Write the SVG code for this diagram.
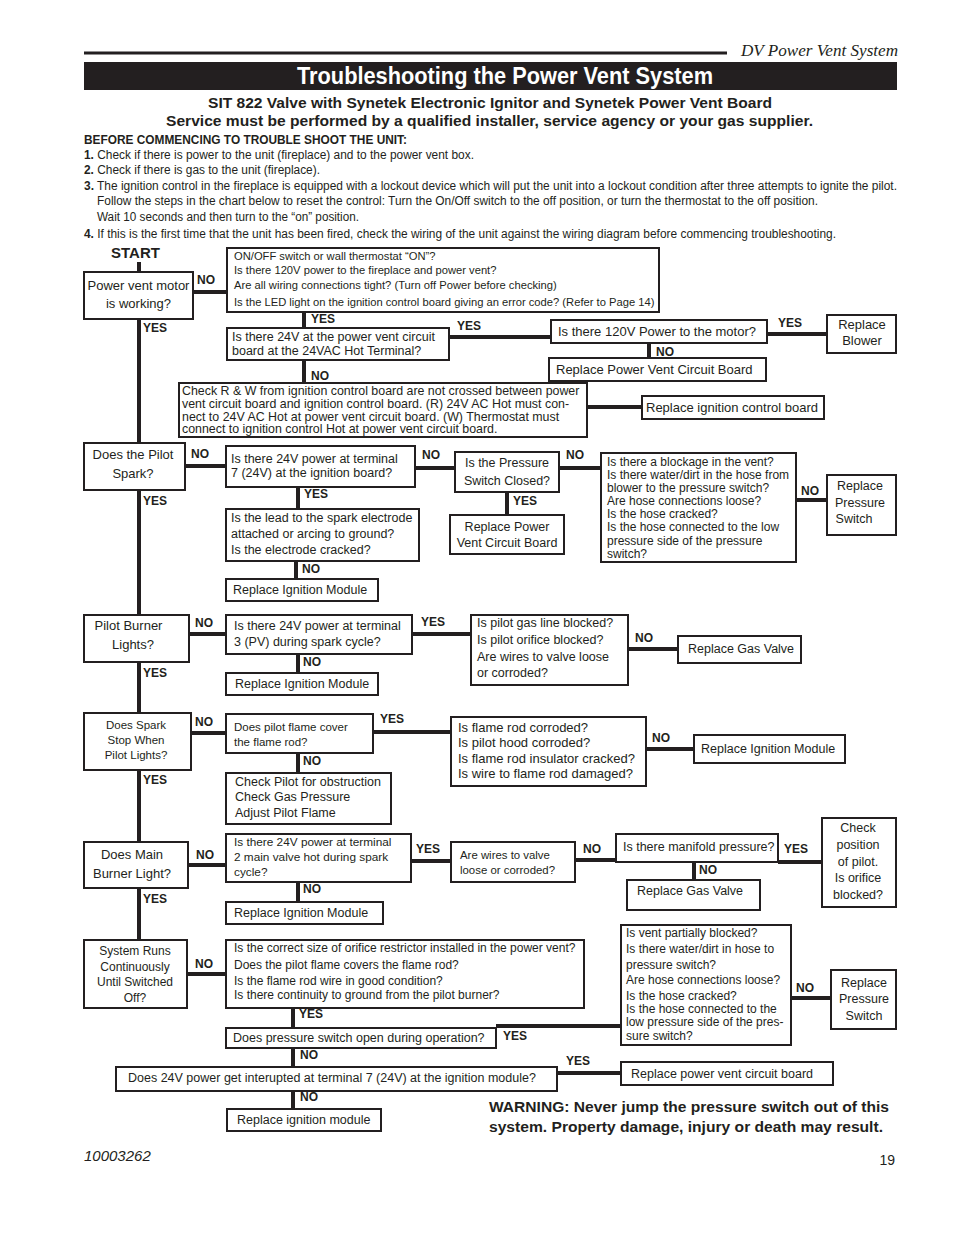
<svg xmlns="http://www.w3.org/2000/svg" width="954" height="1235" viewBox="0 0 954 1235">
<style>
.box{fill:#fff;stroke:#231f20;stroke-width:2}
.c{stroke:#231f20;stroke-width:4;fill:none}
text{font-family:"Liberation Sans",Arial,Helvetica,sans-serif;fill:#231f20}
.t{font-size:12.5px}
.s{font-size:11.2px}
.m{font-size:12px}
.sm{font-size:11.5px}
.l{font-size:13px}
.mid{text-anchor:middle}
.lb{font-size:12px;font-weight:bold}
</style>
<rect width="954" height="1235" fill="#fff"/>
<g id="header">
<line x1="84" y1="53" x2="727" y2="53" stroke="#231f20" stroke-width="3"/>
<text x="741" y="56" style="font-family:'Liberation Serif','Times New Roman',serif;font-style:italic;font-size:17px" textLength="157" lengthAdjust="spacingAndGlyphs">DV Power Vent System</text>
<rect x="84" y="62" width="813" height="28" fill="#231f20"/>
<text x="297" y="84" style="fill:#fff;font-size:23px;font-weight:bold" textLength="416" lengthAdjust="spacingAndGlyphs">Troubleshooting the Power Vent System</text>
<text x="208" y="108" font-size="15" font-weight="bold" textLength="564" lengthAdjust="spacingAndGlyphs">SIT 822 Valve with Synetek Electronic Ignitor and Synetek Power Vent Board</text>
<text x="166" y="126" font-size="15" font-weight="bold" textLength="647" lengthAdjust="spacingAndGlyphs">Service must be performed by a qualified installer, service agency or your gas supplier.</text>
</g>
<g id="intro" font-size="12">
<text x="84" y="144" font-weight="bold" textLength="323" lengthAdjust="spacingAndGlyphs">BEFORE COMMENCING TO TROUBLE SHOOT THE UNIT:</text>
<text x="84" y="159" textLength="390" lengthAdjust="spacingAndGlyphs"><tspan font-weight="bold">1.</tspan> Check if there is power to the unit (fireplace) and to the power vent box.</text>
<text x="84" y="174" textLength="236" lengthAdjust="spacingAndGlyphs"><tspan font-weight="bold">2.</tspan> Check if there is gas to the unit (fireplace).</text>
<text x="84" y="190" textLength="813" lengthAdjust="spacingAndGlyphs"><tspan font-weight="bold">3.</tspan> The ignition control in the fireplace is equipped with a lockout device which will put the unit into a lockout condition after three attempts to ignite the pilot.</text>
<text x="97" y="205" textLength="721" lengthAdjust="spacingAndGlyphs">Follow the steps in the chart below to reset the control: Turn the On/Off switch to the off position, or turn the thermostat to the off position.</text>
<text x="97" y="221" textLength="262" lengthAdjust="spacingAndGlyphs">Wait 10 seconds and  then turn to the “on” position.</text>
<text x="84" y="238" textLength="752" lengthAdjust="spacingAndGlyphs"><tspan font-weight="bold">4.</tspan> If this is the first time that the unit has been fired, check the wiring of the unit against the wiring diagram before commencing troubleshooting.</text>
</g>
<g id="connectors">
<line class="c" x1="139" y1="262" x2="139" y2="940"/>
<line class="c" x1="193" y1="292" x2="227" y2="292"/>
<line class="c" x1="304" y1="312" x2="304" y2="328"/>
<line class="c" x1="449" y1="337" x2="551" y2="337"/>
<line class="c" x1="649" y1="343" x2="649" y2="358"/>
<line class="c" x1="767" y1="334" x2="827" y2="334"/>
<line class="c" x1="304" y1="360" x2="304" y2="383"/>
<line class="c" x1="587" y1="407" x2="642" y2="407"/>
<line class="c" x1="185" y1="466" x2="226" y2="466"/>
<line class="c" x1="415" y1="468" x2="455" y2="468"/>
<line class="c" x1="507" y1="492" x2="507" y2="515"/>
<line class="c" x1="559" y1="468" x2="601" y2="468"/>
<line class="c" x1="796" y1="500" x2="827" y2="500"/>
<line class="c" x1="298" y1="487" x2="298" y2="509"/>
<line class="c" x1="296" y1="561" x2="296" y2="579"/>
<line class="c" x1="189" y1="634" x2="226" y2="634"/>
<line class="c" x1="412" y1="634" x2="471" y2="634"/>
<line class="c" x1="628" y1="649" x2="678" y2="649"/>
<line class="c" x1="298" y1="654" x2="298" y2="673"/>
<line class="c" x1="191" y1="733" x2="226" y2="733"/>
<line class="c" x1="373" y1="732" x2="451" y2="732"/>
<line class="c" x1="646" y1="749" x2="694" y2="749"/>
<line class="c" x1="298" y1="753" x2="298" y2="773"/>
<line class="c" x1="188" y1="865" x2="226" y2="865"/>
<line class="c" x1="411" y1="861" x2="451" y2="861"/>
<line class="c" x1="575" y1="860" x2="616" y2="860"/>
<line class="c" x1="694" y1="862" x2="694" y2="880"/>
<line class="c" x1="778" y1="862" x2="822" y2="862"/>
<line class="c" x1="298" y1="882" x2="298" y2="902"/>
<line class="c" x1="187" y1="974" x2="226" y2="974"/>
<line class="c" x1="293" y1="1008" x2="293" y2="1028"/>
<line class="c" x1="496" y1="1026" x2="621" y2="1026"/>
<line class="c" x1="791" y1="998" x2="831" y2="998"/>
<line class="c" x1="293" y1="1048" x2="293" y2="1067"/>
<line class="c" x1="557" y1="1073" x2="621" y2="1073"/>
<line class="c" x1="293" y1="1091" x2="293" y2="1109"/>
</g>
<g id="labels">
<text x="111" y="258" font-size="15" font-weight="bold">START</text>
<text class="lb" x="197" y="284">NO</text>
<text class="lb" x="143" y="332">YES</text>
<text class="lb" x="311" y="323">YES</text>
<text class="lb" x="457" y="330">YES</text>
<text class="lb" x="656" y="356">NO</text>
<text class="lb" x="778" y="327">YES</text>
<text class="lb" x="311" y="380">NO</text>
<text class="lb" x="191" y="458">NO</text>
<text class="lb" x="422" y="459">NO</text>
<text class="lb" x="513" y="505">YES</text>
<text class="lb" x="566" y="459">NO</text>
<text class="lb" x="801" y="495">NO</text>
<text class="lb" x="143" y="505">YES</text>
<text class="lb" x="304" y="498">YES</text>
<text class="lb" x="302" y="573">NO</text>
<text class="lb" x="195" y="627">NO</text>
<text class="lb" x="421" y="626">YES</text>
<text class="lb" x="635" y="642">NO</text>
<text class="lb" x="303" y="666">NO</text>
<text class="lb" x="143" y="677">YES</text>
<text class="lb" x="195" y="726">NO</text>
<text class="lb" x="380" y="723">YES</text>
<text class="lb" x="652" y="742">NO</text>
<text class="lb" x="303" y="765">NO</text>
<text class="lb" x="143" y="784">YES</text>
<text class="lb" x="196" y="859">NO</text>
<text class="lb" x="416" y="853">YES</text>
<text class="lb" x="583" y="853">NO</text>
<text class="lb" x="699" y="874">NO</text>
<text class="lb" x="784" y="853">YES</text>
<text class="lb" x="303" y="893">NO</text>
<text class="lb" x="143" y="903">YES</text>
<text class="lb" x="195" y="968">NO</text>
<text class="lb" x="299" y="1018">YES</text>
<text class="lb" x="503" y="1040">YES</text>
<text class="lb" x="796" y="992">NO</text>
<text class="lb" x="300" y="1059">NO</text>
<text class="lb" x="566" y="1065">YES</text>
<text class="lb" x="300" y="1101">NO</text>
</g>
<g id="n1"><rect class="box" x="84" y="272" width="109" height="47"/><text class="l mid" x="138.5" y="290">Power vent motor</text><text class="l mid" x="138.5" y="308">is working?</text></g>
<g id="n2"><rect class="box" x="227" y="248" width="432" height="64"/><text class="s" x="234" y="260">ON/OFF switch or wall thermostat “ON”?</text><text class="s" x="234" y="274">Is there 120V power to the fireplace and power vent?</text><text class="s" x="234" y="289">Are all wiring connections tight? (Turn off Power before checking)</text><text class="s" x="234" y="306">Is the LED light on the ignition control board giving an error code? (Refer to Page 14)</text></g>
<g id="n3"><rect class="box" x="227" y="328" width="222" height="32"/><text class="t" x="232" y="341">Is there 24V at the power vent circuit</text><text class="t" x="232" y="355">board at the 24VAC Hot Terminal?</text></g>
<g id="n4"><rect class="box" x="551" y="320" width="216" height="23"/><text class="l" x="558" y="336">Is there 120V Power to the motor?</text></g>
<g id="n5"><rect class="box" x="549" y="358" width="217" height="23"/><text class="l" x="556" y="374">Replace Power Vent Circuit Board</text></g>
<g id="n6"><rect class="box" x="827" y="315" width="69" height="38"/><text class="l mid" x="862" y="329">Replace</text><text class="l mid" x="862" y="345">Blower</text></g>
<g id="n7"><rect class="box" x="179" y="383" width="408" height="54"/><text x="182" y="395" font-size="12.4">Check R &amp; W from ignition control board are not crossed between power</text><text x="182" y="408" font-size="12.4">vent circuit board and ignition control board. (R) 24V AC Hot must con-</text><text x="182" y="421" font-size="12.4">nect to 24V AC Hot at power vent circuit board. (W) Thermostat must</text><text x="182" y="433" font-size="12.4">connect to ignition control Hot at power vent circuit board.</text></g>
<g id="n8"><rect class="box" x="642" y="396" width="182" height="23"/><text class="l" x="646" y="412">Replace ignition control board</text></g>
<g id="n9"><rect class="box" x="84" y="443" width="101" height="47"/><text class="l mid" x="133" y="459">Does the Pilot</text><text class="l mid" x="133" y="478">Spark?</text></g>
<g id="n10"><rect class="box" x="226" y="446" width="189" height="41"/><text class="t" x="231" y="463">Is there 24V power at terminal</text><text class="t" x="231" y="477">7 (24V) at the ignition board?</text></g>
<g id="n11"><rect class="box" x="455" y="452" width="104" height="40"/><text class="t mid" x="507" y="467">Is the Pressure</text><text class="t mid" x="507" y="485">Switch Closed?</text></g>
<g id="n12"><rect class="box" x="450" y="515" width="114" height="39"/><text class="t mid" x="507" y="531">Replace Power</text><text class="t mid" x="507" y="547">Vent Circuit Board</text></g>
<g id="n13"><rect class="box" x="601" y="453" width="195" height="109"/><text class="m" x="607" y="466">Is there a blockage in the vent?</text><text class="m" x="607" y="479">Is there water/dirt in the hose from</text><text class="m" x="607" y="492">blower to the pressure switch?</text><text class="m" x="607" y="505">Are hose connections loose?</text><text class="m" x="607" y="518">Is the hose cracked?</text><text class="m" x="607" y="531">Is the hose connected to the low</text><text class="m" x="607" y="545">pressure side of the pressure</text><text class="m" x="607" y="558">switch?</text></g>
<g id="n14"><rect class="box" x="827" y="475" width="69" height="60"/><text class="t mid" x="860" y="490">Replace</text><text class="t mid" x="860" y="507">Pressure</text><text class="t mid" x="854" y="523">Switch</text></g>
<g id="n15"><rect class="box" x="226" y="509" width="193" height="52"/><text class="t" x="231" y="522">Is the lead to the spark electrode</text><text class="t" x="231" y="538">attached or arcing to ground?</text><text class="t" x="231" y="554">Is the electrode cracked?</text></g>
<g id="n16"><rect class="box" x="226" y="579" width="152" height="22"/><text class="t" x="233" y="594">Replace Ignition Module</text></g>
<g id="n17"><rect class="box" x="84" y="615" width="105" height="47"/><text class="l mid" x="128.5" y="630">Pilot Burner</text><text class="l mid" x="133" y="649">Lights?</text></g>
<g id="n18"><rect class="box" x="226" y="615" width="186" height="39"/><text class="t" x="234" y="630">Is there 24V power at terminal</text><text class="t" x="234" y="646">3 (PV) during spark cycle?</text></g>
<g id="n19"><rect class="box" x="471" y="615" width="157" height="70"/><text class="t" x="477" y="627">Is pilot gas line blocked?</text><text class="t" x="477" y="644">Is pilot orifice blocked?</text><text class="t" x="477" y="661">Are wires to valve loose</text><text class="t" x="477" y="677">or corroded?</text></g>
<g id="n20"><rect class="box" x="678" y="636" width="123" height="27"/><text class="t" x="688" y="653">Replace Gas Valve</text></g>
<g id="n21"><rect class="box" x="226" y="673" width="152" height="22"/><text class="t" x="235" y="688">Replace Ignition Module</text></g>
<g id="n22"><rect class="box" x="84" y="713" width="107" height="57"/><text class="sm mid" x="136" y="729">Does Spark</text><text class="sm mid" x="136" y="744">Stop When</text><text class="sm mid" x="136" y="759">Pilot Lights?</text></g>
<g id="n23"><rect class="box" x="226" y="714" width="147" height="39"/><text class="sm" x="234" y="731">Does pilot flame cover</text><text class="sm" x="234" y="746">the flame rod?</text></g>
<g id="n24"><rect class="box" x="451" y="717" width="195" height="69"/><text class="l" x="458" y="732">Is flame rod corroded?</text><text class="l" x="458" y="747">Is pilot hood corroded?</text><text class="l" x="458" y="763">Is flame rod insulator cracked?</text><text class="l" x="458" y="778">Is wire to flame rod damaged?</text></g>
<g id="n25"><rect class="box" x="694" y="735" width="151" height="28"/><text class="t" x="701" y="753">Replace Ignition Module</text></g>
<g id="n26"><rect class="box" x="226" y="773" width="165" height="51"/><text class="t" x="235" y="786">Check Pilot for obstruction</text><text class="t" x="235" y="801">Check Gas Pressure</text><text class="t" x="235" y="817">Adjust Pilot Flame</text></g>
<g id="n27"><rect class="box" x="84" y="842" width="104" height="46"/><text class="l mid" x="132" y="859">Does Main</text><text class="l mid" x="132" y="878">Burner Light?</text></g>
<g id="n28"><rect class="box" x="226" y="834" width="185" height="48"/><text x="234" y="846" font-size="11.8">Is there 24V power at terminal</text><text x="234" y="861" font-size="11.8">2 main valve hot during spark</text><text x="234" y="876" font-size="11.8">cycle?</text></g>
<g id="n29"><rect class="box" x="451" y="842" width="124" height="40"/><text x="460" y="859" font-size="11.4">Are wires to valve</text><text x="460" y="874" font-size="11.4">loose or corroded?</text></g>
<g id="n30"><rect class="box" x="616" y="834" width="162" height="28"/><text class="t" x="623" y="851">Is there manifold pressure?</text></g>
<g id="n31"><rect class="box" x="627" y="880" width="133" height="30"/><text class="t" x="637" y="895">Replace Gas Valve</text></g>
<g id="n32"><rect class="box" x="822" y="818" width="74" height="89"/><text class="t mid" x="858" y="832">Check</text><text class="t mid" x="858" y="849">position</text><text class="t mid" x="858" y="866">of pilot.</text><text class="t mid" x="858" y="882">Is orifice</text><text class="t mid" x="858" y="899">blocked?</text></g>
<g id="n33"><rect class="box" x="226" y="902" width="157" height="22"/><text class="t" x="234" y="917">Replace Ignition Module</text></g>
<g id="n34"><rect class="box" x="84" y="940" width="103" height="68"/><text class="m mid" x="135" y="955">System Runs</text><text class="m mid" x="135" y="971">Continuously</text><text class="m mid" x="135" y="986">Until Switched</text><text class="m mid" x="135" y="1002">Off?</text></g>
<g id="n35"><rect class="box" x="226" y="940" width="358" height="68"/><text class="m" x="234" y="952">Is the correct size of orifice restrictor installed in the power vent?</text><text class="m" x="234" y="969">Does the pilot flame covers the flame rod?</text><text class="m" x="234" y="985">Is the flame rod wire in good condition?</text><text class="m" x="234" y="999">Is there continuity to ground from the pilot burner?</text></g>
<g id="n36"><rect class="box" x="226" y="1028" width="270" height="20"/><text class="t" x="233" y="1042">Does pressure switch open during operation?</text></g>
<g id="n37"><rect class="box" x="621" y="925" width="170" height="120"/><text class="m" x="626" y="937">Is vent partially blocked?</text><text class="m" x="626" y="953">Is there water/dirt in hose to</text><text class="m" x="626" y="969">pressure switch?</text><text class="m" x="626" y="984">Are hose connections loose?</text><text class="m" x="626" y="1000">Is the hose cracked?</text><text class="m" x="626" y="1013">Is the hose connected to the</text><text class="m" x="626" y="1026">low pressure side of the pres-</text><text class="m" x="626" y="1040">sure switch?</text></g>
<g id="n38"><rect class="box" x="831" y="970" width="65" height="59"/><text class="t mid" x="864" y="987">Replace</text><text class="t mid" x="864" y="1003">Pressure</text><text class="t mid" x="864" y="1020">Switch</text></g>
<g id="n39"><rect class="box" x="116" y="1067" width="441" height="24"/><text class="t" x="128" y="1082">Does 24V power get interupted at terminal 7 (24V) at the ignition module?</text></g>
<g id="n40"><rect class="box" x="621" y="1062" width="212" height="23"/><text class="t" x="631" y="1078">Replace power vent circuit board</text></g>
<g id="n41"><rect class="box" x="227" y="1109" width="154" height="22"/><text class="t" x="237" y="1124">Replace ignition module</text></g>
<g id="footer">
<text x="489" y="1112" font-size="14.5" font-weight="bold" textLength="400" lengthAdjust="spacingAndGlyphs">WARNING: Never jump the pressure switch out of this</text>
<text x="489" y="1132" font-size="14.5" font-weight="bold" textLength="394" lengthAdjust="spacingAndGlyphs">system. Property damage, injury or death may result.</text>
<text x="84" y="1161" font-size="15" font-style="italic">10003262</text>
<text x="895" y="1165" font-size="14" text-anchor="end">19</text>
</g>
</svg>
